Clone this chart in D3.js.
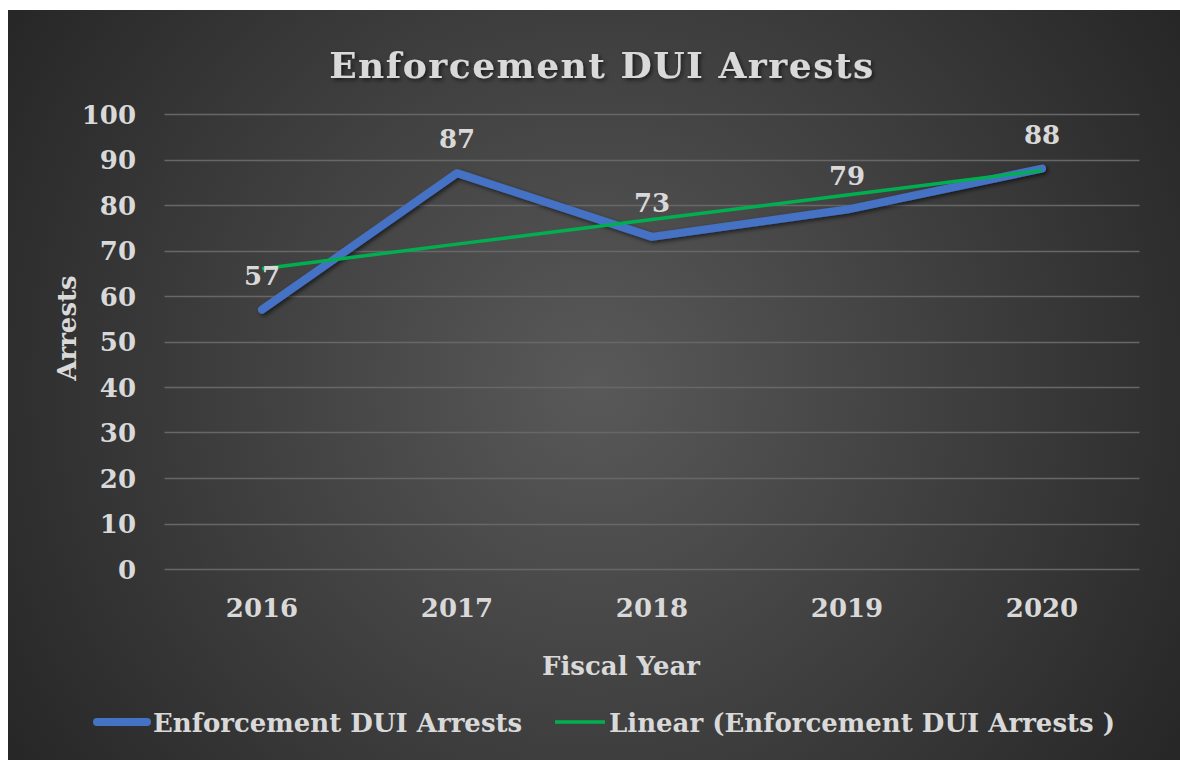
<!DOCTYPE html>
<html>
<head>
<meta charset="utf-8">
<script src="https://cdn.jsdelivr.net/npm/d3@7"></script>
<style>
  html, body { margin: 0; padding: 0; background: #ffffff; }
  svg { display: block; }
  text { font-family: "DejaVu Serif", serif; font-weight: bold; fill: #d9d9d9; }
</style>
</head>
<body>
<svg id="chart" width="1180" height="760"></svg>
<script>
// ---- data ----
const categories = ["2016", "2017", "2018", "2019", "2020"];
const arrests = [57, 87, 73, 79, 88];
const trendValues = [66.0, 71.4, 76.8, 82.2, 87.6];
const yTicks = [0, 10, 20, 30, 40, 50, 60, 70, 80, 90, 100];
const titleText = "Enforcement DUI Arrests";
const xTitle = "Fiscal Year";
const yTitle = "Arrests";
const seriesName = "Enforcement DUI Arrests";
const trendName = "Linear (Enforcement DUI Arrests )";

const W = 1180, H = 760;
const svg = d3.select("#chart");
const defs = svg.append("defs");

const grad = defs.append("radialGradient")
  .attr("id", "bg").attr("gradientUnits", "userSpaceOnUse")
  .attr("cx", 594).attr("cy", 384).attr("r", 700);
grad.append("stop").attr("offset", "0%").attr("stop-color", "#595959");
grad.append("stop").attr("offset", "100%").attr("stop-color", "#262626");

const sh = defs.append("filter").attr("id", "shadow")
  .attr("x", "-10%").attr("y", "-30%").attr("width", "130%").attr("height", "160%");
sh.append("feDropShadow").attr("dx", 2).attr("dy", 2).attr("stdDeviation", 2)
  .attr("flood-color", "#000").attr("flood-opacity", 0.6);

svg.append("rect").attr("x", 8).attr("y", 10).attr("width", W - 8).attr("height", H - 10)
  .attr("fill", "url(#bg)");

const plot = { left: 164.5, right: 1139.5, top: 114, bottom: 569 };

const x = d3.scaleBand().domain(categories).range([plot.left, plot.right]);
const y = d3.scaleLinear().domain([0, 100]).range([plot.bottom, plot.top]);
const cx = d => x(d) + x.bandwidth() / 2;

// gridlines
svg.append("g").selectAll("line").data(yTicks).join("line")
  .attr("x1", plot.left).attr("x2", plot.right)
  .attr("y1", d => Math.round(y(d)) + 0.5).attr("y2", d => Math.round(y(d)) + 0.5)
  .attr("stroke", "#676767").attr("stroke-width", 1.5);

// y axis labels
const yAxis = d3.axisLeft(y).tickValues(yTicks).tickSize(0).tickPadding(0);
const yg = svg.append("g").attr("transform", `translate(136,0)`).call(yAxis);
yg.select(".domain").remove();
yg.selectAll("text").attr("font-size", 26).attr("fill", "#d9d9d9")
  .attr("font-family", "DejaVu Serif").attr("font-weight", "bold").attr("dy", "0.36em");

// x axis labels
const xAxis = d3.axisBottom(x).tickSize(0).tickPadding(0);
const xg = svg.append("g").attr("transform", `translate(0,${plot.bottom})`).call(xAxis);
xg.select(".domain").remove();
xg.selectAll("text").attr("font-size", 26).attr("fill", "#d9d9d9")
  .attr("font-family", "DejaVu Serif").attr("font-weight", "bold")
  .attr("dy", 0).attr("y", 48);

// axis titles
svg.append("text").attr("x", 621).attr("y", 675).attr("text-anchor", "middle")
  .attr("font-size", 26).text(xTitle);
svg.append("text").attr("transform", "translate(76,328) rotate(-90)")
  .attr("text-anchor", "middle").attr("font-size", 26).text(yTitle);

// title
svg.append("text").attr("x", 602).attr("y", 78).attr("text-anchor", "middle")
  .attr("font-size", 36).attr("letter-spacing", 1.5).attr("fill", "#f2f2f2")
  .attr("filter", "url(#shadow)").text(titleText);

// series line
const line = d3.line().x((d, i) => cx(categories[i])).y(d => y(d));
svg.append("path").datum(arrests).attr("d", line)
  .attr("fill", "none").attr("stroke", "#4472c4").attr("stroke-width", 8)
  .attr("stroke-linecap", "round").attr("stroke-linejoin", "round")
  .attr("filter", "url(#shadow)");

// trendline
svg.append("path").datum(trendValues).attr("d", line)
  .attr("fill", "none").attr("stroke", "#00b050").attr("stroke-width", 3.5);

// data labels
svg.append("g").selectAll("text").data(arrests).join("text")
  .attr("x", (d, i) => cx(categories[i]))
  .attr("y", d => y(d) - 25)
  .attr("text-anchor", "middle").attr("font-size", 26)
  .text(d => d);

// legend
const lg = svg.append("g");
lg.append("line").attr("x1", 97).attr("x2", 147).attr("y1", 722).attr("y2", 722)
  .attr("stroke", "#4472c4").attr("stroke-width", 8).attr("stroke-linecap", "round");
lg.append("text").attr("x", 153).attr("y", 732).attr("font-size", 26).text(seriesName);
lg.append("line").attr("x1", 555).attr("x2", 605).attr("y1", 722).attr("y2", 722)
  .attr("stroke", "#00b050").attr("stroke-width", 3.5);
lg.append("text").attr("x", 609).attr("y", 732).attr("font-size", 26).text(trendName);
</script>
</body>
</html>
